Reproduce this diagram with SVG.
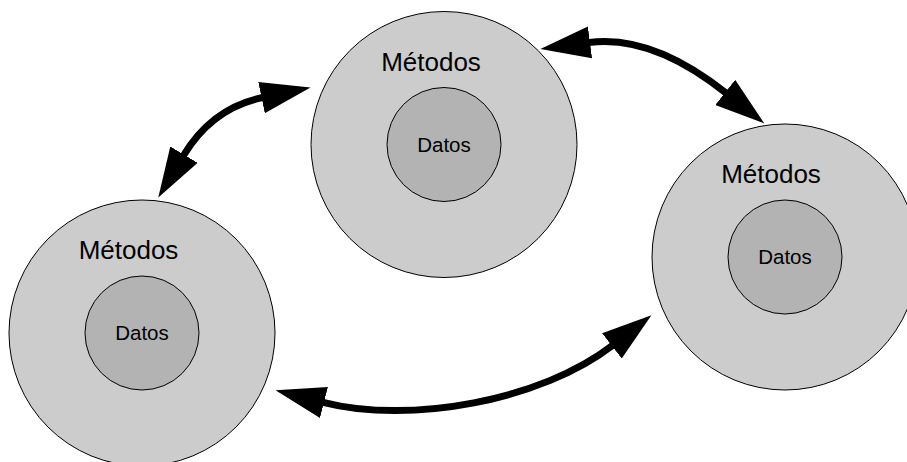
<svg xmlns="http://www.w3.org/2000/svg" width="907" height="462" viewBox="0 0 907 462">
<style>
.outer{fill:#cccccc;stroke:#000;stroke-width:1}
.inner{fill:#b3b3b3;stroke:#000;stroke-width:1}
.m{font-family:"Liberation Sans",Arial,sans-serif;font-size:26px;text-anchor:middle;fill:#000}
.d{font-family:"Liberation Sans",Arial,sans-serif;font-size:20.5px;text-anchor:middle;fill:#000}
.c{fill:none;stroke:#000;stroke-width:7;marker-start:url(#ah);marker-end:url(#ah)}
</style>
<defs>
<marker id="ah" markerUnits="userSpaceOnUse" viewBox="0 -17 52 34" refX="1" refY="0" markerWidth="52" markerHeight="34" orient="auto-start-reverse">
<path d="M0,-16 L50,0 L0,16 Z" fill="#000"/>
</marker>
</defs>
<rect width="907" height="462" fill="#fff"/>
<g id="node-top">
<circle class="outer" cx="444" cy="144.5" r="133"/>
<circle class="inner" cx="444" cy="144.5" r="57"/>
<text class="m" x="431" y="71">Métodos</text>
<text class="d" x="444" y="151.5">Datos</text>
</g>
<g id="node-left">
<circle class="outer" cx="142" cy="333" r="133"/>
<circle class="inner" cx="142" cy="333" r="57"/>
<text class="m" x="128.5" y="259">Métodos</text>
<text class="d" x="142" y="340">Datos</text>
</g>
<g id="node-right">
<circle class="outer" cx="785" cy="257" r="133"/>
<circle class="inner" cx="785" cy="257" r="57"/>
<text class="m" x="771" y="183">Métodos</text>
<text class="d" x="785" y="263.5">Datos</text>
</g>
<g id="connectors">
<path class="c" d="M183.5,155.5 Q212,108 262.5,97.5"/>
<path class="c" d="M589,42.5 C638.5,36 686.9,61.9 726,93"/>
<path class="c" d="M323,402.3 C410.3,424.6 541.6,400.5 612.7,345.3"/>
</g>
</svg>
